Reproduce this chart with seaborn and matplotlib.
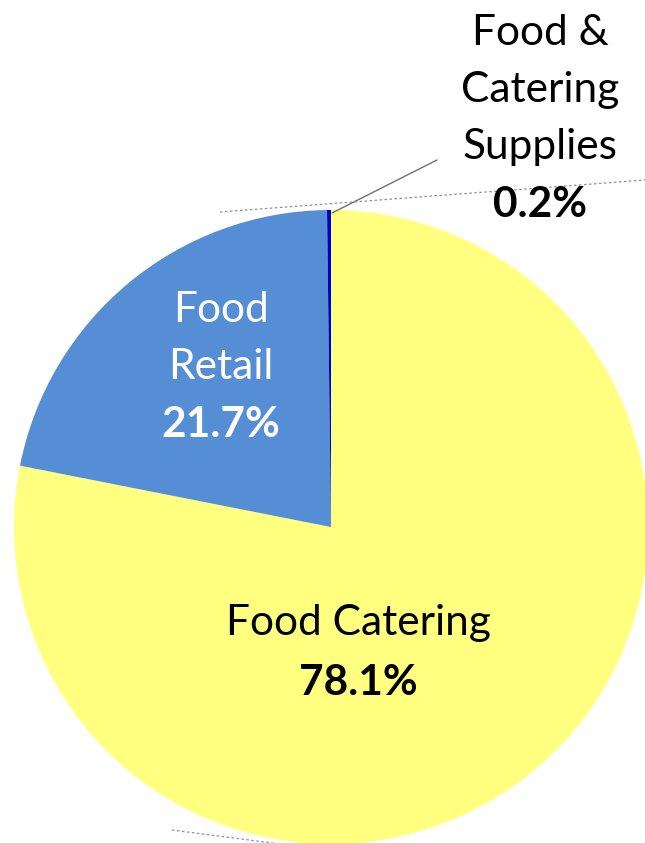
import matplotlib
matplotlib.use("Agg")
import matplotlib.pyplot as plt
import seaborn as sns

sns.set_theme(style="white")
plt.rcParams['font.family'] = ['Lato', 'DejaVu Sans']

categories = ["Food Catering", "Food Retail", "Food & Catering Supplies"]
values = [78.1, 21.7, 0.2]
colors = ["#FFFF80", "#558ED5", "#0000CC"]

W, H = 645, 843
fig = plt.figure(figsize=(W / 100, H / 100), dpi=100)
ax = fig.add_axes([0, 0, 1, 1])

ax.pie(values, colors=colors, startangle=90, counterclock=False,
       center=(331, H - 527), radius=317,
       wedgeprops=dict(linewidth=0))
ax.set_xlim(0, W)
ax.set_ylim(0, H)
ax.set_aspect('auto')
ax.axis('off')

def py(y):
    return H - y

fs = 30.5
# Food Catering label
ax.text(358, py(623), "Food Catering", ha='center', va='center', fontsize=fs, color='black')
ax.text(358, py(683), f"{values[0]:.1f}%", ha='center', va='center', fontsize=fs, fontweight='bold', color='black')
# Food Retail label
ax.text(221, py(310), "Food", ha='center', va='center', fontsize=fs, color='white')
ax.text(221, py(367), "Retail", ha='center', va='center', fontsize=fs, color='white')
ax.text(221, py(425), f"{values[1]:.1f}%", ha='center', va='center', fontsize=fs, fontweight='bold', color='white')
# Supplies label
ax.text(540, py(33), "Food &", ha='center', va='center', fontsize=fs, color='black')
ax.text(540, py(90), "Catering", ha='center', va='center', fontsize=fs, color='black')
ax.text(540, py(147), "Supplies", ha='center', va='center', fontsize=fs, color='black')
ax.text(540, py(205), f"{values[2]:.1f}%", ha='center', va='center', fontsize=fs, fontweight='bold', color='black')

# leader line
ax.plot([332, 437], [py(213), py(160)], color='#707070', linewidth=1.0)

# dotted guide lines
ax.plot([220, 645], [py(212), py(180)], color='#909090', linewidth=0.9, linestyle=(0, (2, 2)))
ax.plot([172, 280], [py(830), py(844)], color='#909090', linewidth=0.9, linestyle=(0, (2, 2)))

fig.savefig("out.png", dpi=100)
